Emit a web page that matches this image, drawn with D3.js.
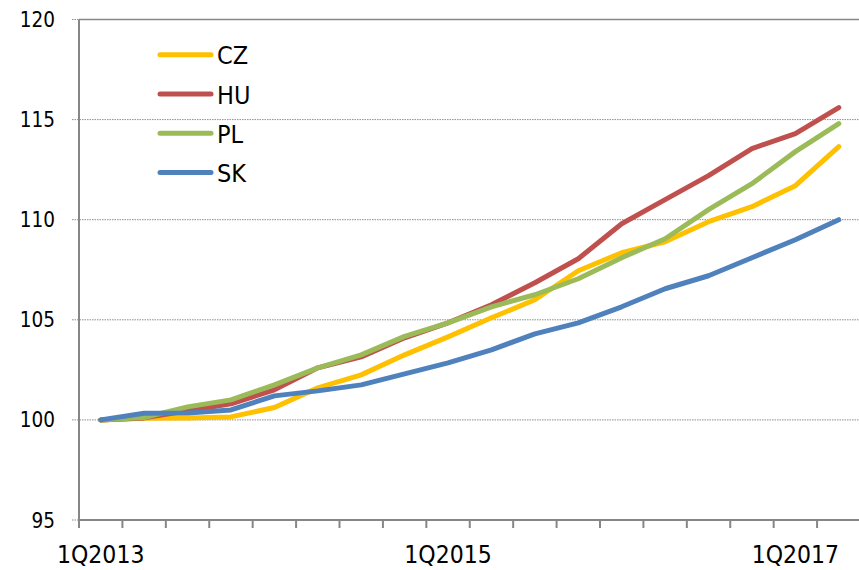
<!DOCTYPE html>
<html>
<head>
<meta charset="utf-8">
<script src="https://cdn.jsdelivr.net/npm/d3@7"></script>
<style>
  html, body { margin: 0; padding: 0; background: #fff; }
  svg { display: block; }
  text { font-family: "DejaVu Sans Condensed", "DejaVu Sans", sans-serif; font-stretch: condensed; fill: #000; }
</style>
</head>
<body>
<svg id="chart" width="859" height="570"></svg>
<script>
const categories = ["1Q2013","2Q2013","3Q2013","4Q2013","1Q2014","2Q2014","3Q2014","4Q2014",
  "1Q2015","2Q2015","3Q2015","4Q2015","1Q2016","2Q2016","3Q2016","4Q2016","1Q2017","2Q2017"];
const labelledCategories = ["1Q2013","1Q2015","1Q2017"];
const yTicks = [95, 100, 105, 110, 115, 120];
const seriesNames = ["CZ","HU","PL","SK"];
const seriesColors = ["#FFC000","#C0504D","#9BBB59","#4F81BD"];
const CZ = [100, 100.08, 100.1, 100.15, 100.62, 101.6, 102.25, 103.25, 104.15, 105.1, 106.0, 107.45, 108.35, 108.9, 109.9, 110.65, 111.7, 113.65];
const HU = [100, 100.1, 100.45, 100.8, 101.5, 102.6, 103.15, 104.1, 104.85, 105.75, 106.85, 108.05, 109.8, 111.0, 112.2, 113.55, 114.3, 115.6];
const PL = [100, 100.12, 100.65, 101.0, 101.75, 102.6, 103.25, 104.17, 104.85, 105.65, 106.25, 107.05, 108.1, 109.05, 110.5, 111.8, 113.4, 114.8];
const SK = [100, 100.33, 100.35, 100.5, 101.2, 101.45, 101.75, 102.3, 102.85, 103.5, 104.3, 104.85, 105.65, 106.55, 107.2, 108.1, 109.0, 110.0];
const seriesValues = [CZ, HU, PL, SK];

(function () {
const svg = d3.select("#chart");
const pLeft = 79, pRight = 860.5, pTop = 19.5, pBottom = 520;
const axisColor = "#868686";

const x = d3.scaleBand().domain(categories).range([pLeft, pRight]).paddingInner(0).paddingOuter(0);
const y = d3.scaleLinear().domain([95, 120]).range([pBottom, pTop]);
const cx = d => x(d) + x.bandwidth() / 2;

// gridlines (dotted) and tick stubs
svg.append("g").selectAll("line").data(yTicks.filter(t => t > 95 && t < 120)).join("line")
  .attr("x1", pLeft - 7).attr("x2", pRight).attr("y1", d => y(d)).attr("y2", d => y(d))
  .attr("stroke", "#8c8c8c").attr("stroke-width", 1).attr("stroke-dasharray", "1.5,1");
svg.append("g").selectAll("line").data([95, 120]).join("line")
  .attr("x1", pLeft - 7).attr("x2", pLeft).attr("y1", d => y(d)).attr("y2", d => y(d))
  .attr("stroke", "#8c8c8c").attr("stroke-width", 1).attr("stroke-dasharray", "1.5,1");

// top border
svg.append("line").attr("x1", pLeft).attr("x2", pRight).attr("y1", y(120)).attr("y2", y(120))
  .attr("stroke", axisColor).attr("stroke-width", 1.5);

// y axis labels
svg.append("g").selectAll("text").data(yTicks).join("text")
  .attr("x", 55).attr("y", d => y(d) + 7.5)
  .attr("text-anchor", "end").attr("font-size", "20.5px")
  .text(d => d);

// lines
const line = d3.line().x((d, i) => cx(categories[i])).y(d => y(d));
svg.append("g").selectAll("path").data(seriesValues).join("path")
  .attr("d", d => line(d))
  .attr("fill", "none")
  .attr("stroke", (d, i) => seriesColors[i])
  .attr("stroke-width", 5)
  .attr("stroke-linejoin", "round")
  .attr("stroke-linecap", "round");

// axes lines
svg.append("line").attr("x1", pLeft).attr("x2", pLeft).attr("y1", pTop).attr("y2", pBottom + 8)
  .attr("stroke", axisColor).attr("stroke-width", 2);
svg.append("line").attr("x1", pLeft).attr("x2", pRight).attr("y1", pBottom).attr("y2", pBottom)
  .attr("stroke", axisColor).attr("stroke-width", 2);
svg.append("g").selectAll("line").data(categories).join("line")
  .attr("x1", d => x(d)).attr("x2", d => x(d)).attr("y1", pBottom).attr("y2", pBottom + 8)
  .attr("stroke", axisColor).attr("stroke-width", 2);

// x labels
svg.append("g").selectAll("text").data(labelledCategories).join("text")
  .attr("x", d => cx(d)).attr("y", 563)
  .attr("text-anchor", "middle").attr("font-size", "24.5px")
  .text(d => d);

// legend
const legend = svg.append("g").selectAll("g").data(seriesNames).join("g")
  .attr("transform", (d, i) => `translate(0, ${54.7 + i * 39.3})`);
legend.append("line").attr("x1", 160).attr("x2", 211).attr("y1", 0).attr("y2", 0)
  .attr("stroke", (d, i) => seriesColors[i]).attr("stroke-width", 5).attr("stroke-linecap", "round");
legend.append("text").attr("x", 217).attr("y", 9.5).attr("font-size", "25px").text(d => d);
})();
</script>
</body>
</html>
